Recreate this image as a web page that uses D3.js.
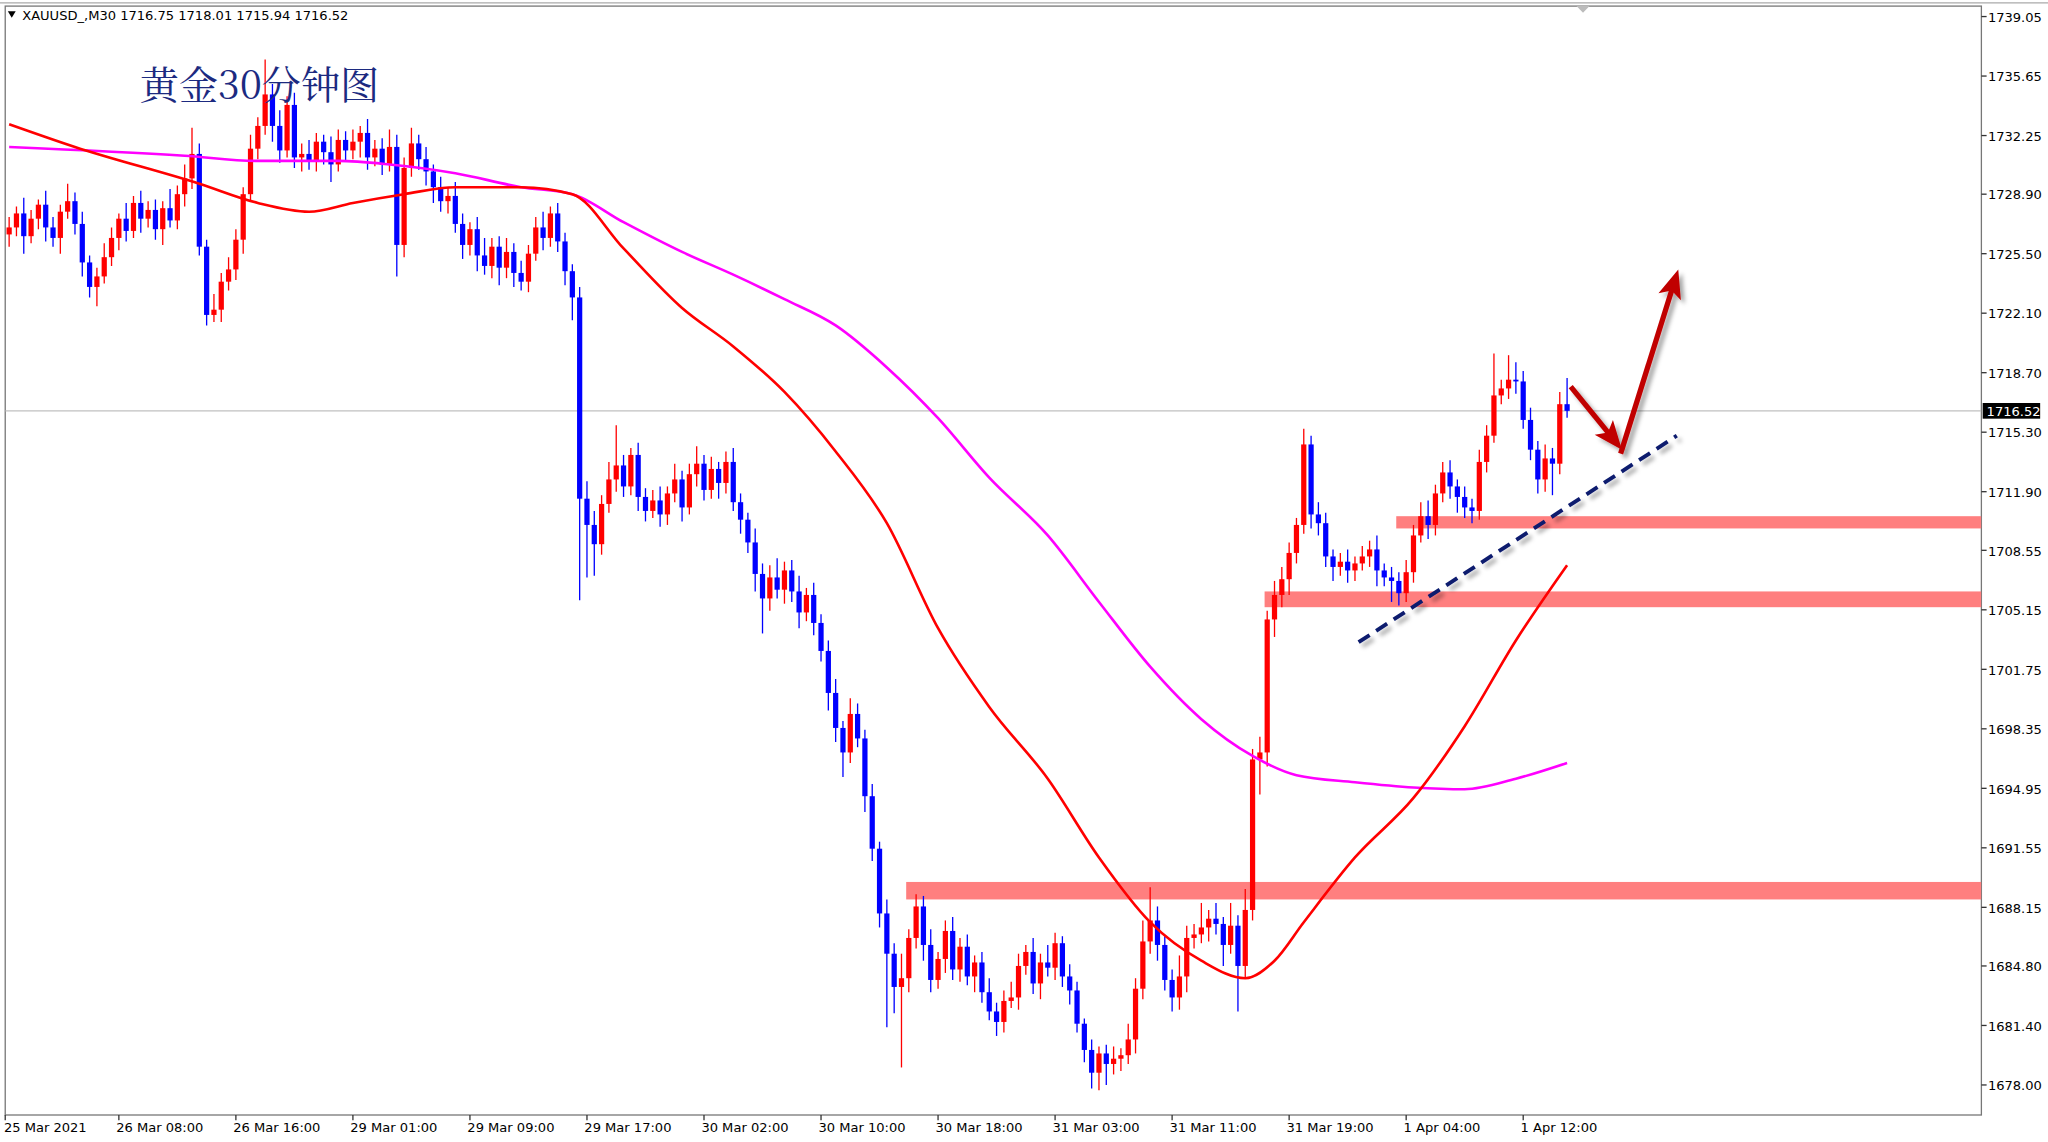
<!DOCTYPE html>
<html>
<head>
<meta charset="utf-8">
<script src="https://cdn.jsdelivr.net/npm/d3@7"></script>
<style>
	body { margin: 0; background: #fff; }
	svg text { font-family: Tahoma, "DejaVu Sans", sans-serif; }
</style>
</head>
<body>
<svg id="chart"></svg>
<script>
// XAUUSD M30, closes (open = previous close)
let firstOpen	= 1726.6;
let closes		= [
	1727.0,1727.8,1726.5,1727.5,1728.3,1727.0,1726.4,1727.9,1728.5,1727.2,
	1725.0,1723.6,1724.2,1725.3,1726.4,1727.5,1726.8,1728.4,1727.5,1728.0,
	1726.9,1728.1,1727.4,1728.9,1729.8,1731.2,1725.9,1722.0,1722.3,1723.9,
	1724.6,1726.3,1728.9,1731.5,1732.8,1734.6,1732.8,1731.4,1734.0,1731.0,
	1731.2,1730.8,1731.9,1731.3,1730.6,1732.0,1731.4,1731.9,1732.4,1731.0,
	1731.5,1730.6,1731.6,1726.0,1730.4,1731.8,1730.9,1730.2,1729.3,1728.5,
	1728.8,1727.2,1726.0,1726.9,1725.4,1724.8,1725.9,1724.7,1725.6,1724.4,
	1723.9,1725.5,1727.0,1726.4,1727.8,1726.2,1724.5,1723.0,1711.5,1710.0,
	1708.9,1711.2,1712.6,1713.4,1712.2,1714.0,1711.6,1710.8,1711.4,1710.6,
	1711.8,1712.6,1711.0,1712.9,1713.5,1712.0,1713.2,1712.4,1713.6,1711.3,
	1710.3,1709.0,1707.2,1705.8,1707.0,1706.3,1707.4,1706.2,1705.0,1706.0,
	1704.4,1702.8,1700.4,1698.4,1697.0,1699.2,1697.8,1694.5,1691.5,1687.8,
	1685.5,1683.6,1684.1,1686.4,1688.2,1686.0,1684.0,1685.2,1686.8,1684.6,
	1685.9,1684.2,1685.0,1683.3,1682.2,1681.6,1682.8,1683.0,1684.8,1685.6,
	1683.8,1685.0,1684.7,1686.1,1684.2,1683.4,1681.5,1680.0,1678.7,1679.8,
	1679.2,1679.5,1679.7,1680.6,1683.5,1686.2,1687.4,1686.0,1684.0,1683.0,
	1684.2,1686.4,1686.6,1687.0,1687.5,1687.2,1686.0,1687.1,1684.8,1688.0,
	1696.6,1697.0,1704.6,1706.0,1706.9,1708.4,1710.0,1714.6,1710.6,1710.1,
	1708.2,1707.6,1707.9,1707.4,1707.8,1708.2,1708.6,1707.4,1707.0,1706.8,
	1706.1,1707.3,1709.4,1710.5,1710.0,1711.8,1713.0,1712.2,1711.6,1711.0,
	1710.8,1713.6,1715.1,1717.4,1717.8,1718.3,1718.2,1716.0,1714.3,1712.6,
	1713.8,1713.5,1716.9,1716.52
];
// wick length above / below the body
let hiExt		= [
	.6,.4,.9,.5,.3,.8,.6,.4,1.0,.5, .7,.4,.5,.8,.6,.3,.9,.4,.7,.5,
	.6,.4,1.1,.5,.8,1.5,.6,.4,.9,.5, .7,.6,.4,.8,.5,2.0,.6,.9,.5,.7,
	.6,.8,.5,.4,.9,.6,.5,.7,.4,.8, .5,.6,1.0,.7,.6,.9,.5,.7,.4,.6,
	.5,.8,.6,.4,.7,1.0,.5,.6,.8,.5, .7,.5,.6,.9,.4,.6,.5,.4,.6,1.0,
	.8,.5,1.0,2.3,.6,.4,.7,.5,.6,.8, .4,.9,.5,.6,1.0,.5,.7,.4,.6,.8,
	.5,.4,.8,.6,.7,1.1,.5,.6,.9,.4, .7,.5,.6,.8,.4,.9,.6,.5,.7,.4,
	.8,.6,1.4,.5,.7,.6,.9,.4,.6,.8, .5,.7,.4,.6,.8,.5,.6,.9,.7,.4,
	.8,.5,1.0,.6,.4,.7,.5,.3,.6,.4, .5,.7,.4,.9,.6,1.2,1.9,.8,.5,.6,
	1.2,.7,.6,1.4,.5,.9,.4,1.3,.6,1.2, .6,.9,.5,.8,.7,.6,.4,.9,.5,.7,
	.6,.4,.5,.7,.4,.6,.5,.8,.4,.6, .5,.7,.6,.8,.9,.5,.6,.7,.4,.6,
	.5,.7,.6,2.4,.5,1.4,1.0,.6,.7,.5, .8,.6,.7,1.5
];
let loExt		= [
	.7,.5,1.0,.4,.6,.8,.5,.9,.4,.6, .8,.6,1.1,.4,.5,.7,.6,.4,.8,.5,
	.6,.9,.4,.5,.7,.6,.5,.6,.4,.7, .5,.6,.8,.4,.6,.5,.9,.7,.4,.6,
	.8,.5,.6,.7,1.0,.4,.6,.5,.9,.7, .5,.6,.4,1.8,.7,.5,.6,.8,.9,.6,
	.7,.5,.8,.6,.9,.5,.7,1.0,.6,.8, .5,.6,.4,.7,.5,.6,.8,1.3,5.8,3.0,
	1.8,.6,.5,.7,.6,.5,.8,.6,.4,.7, .6,.5,.8,.4,.7,.6,.5,.9,.6,.5,
	.8,.6,1.0,2.0,.7,.5,.8,.6,.9,.5, .7,.6,1.0,.8,1.4,.6,.5,.9,.7,.8,
	4.2,1.5,4.6,.8,.6,.9,.7,.5,.8,.6, .7,.5,.9,.6,.5,.8,.6,.4,.7,.5,
	.6,.9,.5,.7,.6,.8,.5,.7,.9,1.0, 1.2,.6,.7,.5,.8,.6,.7,.9,.6,.8,
	.7,.9,.6,.5,.8,.6,1.2,.5,2.6,.7, .6,2.0,.8,1.0,.7,.9,.6,.5,.8,.7,
	.6,.8,.5,.7,.6,.4,.6,.9,.5,1.2, .7,.5,.6,.4,.8,.6,.5,.7,.9,.6,
	.7,.5,.6,.4,.5,.6,.7,.5,.6,.8, .7,1.8,.6,.4
];

// moving averages: [bar, price]
let maFastBars	= [0,9,26,34,41,47,54,61,70,77,84,92,99,106,113,120,127,134,142,149,156,163,169,173,177,184,192,199,206,213];
let maFastVals	= [1732.9,1731.6,1729.5,1728.4,1727.9,1728.4,1728.9,1729.3,1729.3,1728.9,1725.8,1722.4,1720.2,1717.6,1714.2,1710.1,1704.1,1699.6,1695.5,1691.0,1687.3,1685.1,1684.1,1685.1,1687.3,1691.0,1694.4,1698.5,1703.4,1707.7];
let maSlowBars	= [0,24,34,45,52,61,70,77,84,92,99,106,113,120,127,134,142,149,156,163,170,176,184,192,199,206,213];
let maSlowVals	= [1731.6,1731.1,1730.8,1730.8,1730.6,1730.1,1729.3,1728.9,1727.3,1725.6,1724.3,1722.9,1721.4,1719.0,1716.1,1712.7,1709.4,1705.6,1701.9,1698.9,1696.8,1695.7,1695.3,1695.0,1694.9,1695.5,1696.4];

// support zones: [from bar, top price, bottom price]
let zones		= [[123, 1689.6, 1688.6], [172, 1706.2, 1705.3], [190, 1710.5, 1709.8]];
let trendBars	= [184.5, 228];
let trendVals	= [1703.3, 1715.1];
let arrowBars	= [213.5, 220.5, 228.2];
let arrowVals	= [1717.9, 1714.3, 1724.6];

let priceTicks	= [1739.05,1735.65,1732.25,1728.90,1725.50,1722.10,1718.70,1715.30,1711.90,1708.55,1705.15,1701.75,1698.35,1694.95,1691.55,1688.15,1684.80,1681.40,1678.00];
let timeBars	= [-1,15,31,47,63,79,95,111,127,143,159,175,191,207];
let timeLabels	= ["25 Mar 2021","26 Mar 08:00","26 Mar 16:00","29 Mar 01:00","29 Mar 09:00","29 Mar 17:00","30 Mar 02:00","30 Mar 10:00","30 Mar 18:00","31 Mar 03:00","31 Mar 11:00","31 Mar 19:00","1 Apr 04:00","1 Apr 12:00"];
let lastPrice	= 1716.52;

let W = 1568, H = 873;
let plot = { left: 4, right: 1517, top: 4, bottom: 853 };

let svg = d3.select("#chart")
	.attr("width", 2048).attr("height", 1142)
	.attr("viewBox", "0 0 " + W + " " + H);

let x = d3.scaleLinear().domain([0, 213]).range([7, 7 + 5.6 * 213]);
let y = d3.scaleLinear().domain([1678, 1739.05]).range([830, 12]);

let defs = svg.append("defs");
let f = defs.append("filter").attr("id", "shadow").attr("x", "-20%").attr("y", "-20%").attr("width", "140%").attr("height", "140%");
f.append("feDropShadow").attr("dx", 3).attr("dy", 3).attr("stdDeviation", 1.6).attr("flood-color", "#000").attr("flood-opacity", 0.35);
defs.append("clipPath").attr("id", "clip").append("rect")
	.attr("x", plot.left).attr("y", plot.top).attr("width", plot.right - plot.left).attr("height", plot.bottom - plot.top);

// frame
svg.append("rect").attr("x", plot.left).attr("y", plot.top)
	.attr("width", plot.right - plot.left).attr("height", plot.bottom - plot.top)
	.attr("fill", "#fff").attr("stroke", "#777").attr("stroke-width", 1);
svg.append("line").attr("x1", 0).attr("x2", W).attr("y1", 1.5).attr("y2", 1.5).attr("stroke", "#aaa");

let g = svg.append("g").attr("clip-path", "url(#clip)");

// last price line
g.append("line").attr("x1", plot.left).attr("x2", plot.right)
	.attr("y1", y(lastPrice)).attr("y2", y(lastPrice)).attr("stroke", "#c0c0c0").attr("stroke-width", 1);

// zones
g.selectAll(".zone").data(zones).enter().append("rect")
	.attr("x", (o) => x(o[0]) - 2).attr("y", (o) => y(o[1]))
	.attr("width", (o) => plot.right - x(o[0]) + 2).attr("height", (o) => y(o[2]) - y(o[1]))
	.attr("fill", "#ff7f7f");

// candles
let bars = closes.map((c, i) => {
	let o = i == 0 ? firstOpen : closes[i - 1];
	return { i: i, open: o, close: c, high: Math.max(o, c) + hiExt[i], low: Math.min(o, c) - loExt[i] };
});

g.selectAll(".wick").data(bars).enter().append("line")
	.attr("x1", (o) => x(o.i)).attr("x2", (o) => x(o.i))
	.attr("y1", (o) => y(o.high)).attr("y2", (o) => y(o.low))
	.attr("stroke", (o) => o.close >= o.open ? "#ff0000" : "#0000ff").attr("stroke-width", 1);

g.selectAll(".body").data(bars).enter().append("rect")
	.attr("x", (o) => x(o.i) - 2).attr("width", 4)
	.attr("y", (o) => y(Math.max(o.open, o.close)))
	.attr("height", (o) => Math.max(1.2, Math.abs(y(o.open) - y(o.close))))
	.attr("fill", (o) => o.close >= o.open ? "#ff0000" : "#0000ff");

// moving averages
let line = d3.line().x((o) => x(o[0])).y((o) => y(o[1])).curve(d3.curveMonotoneX);
g.append("path").datum(d3.zip(maSlowBars, maSlowVals)).attr("d", line)
	.attr("fill", "none").attr("stroke", "#ff00ff").attr("stroke-width", 2);
g.append("path").datum(d3.zip(maFastBars, maFastVals)).attr("d", line)
	.attr("fill", "none").attr("stroke", "#ff0000").attr("stroke-width", 2);

// trend line
g.append("line")
	.attr("x1", x(trendBars[0])).attr("y1", y(trendVals[0]))
	.attr("x2", x(trendBars[1])).attr("y2", y(trendVals[1]))
	.attr("stroke", "#0a1a6e").attr("stroke-width", 3).attr("stroke-dasharray", "10,6")
	.attr("filter", "url(#shadow)");

// arrows
function arrow(x1, y1, x2, y2) {
	let a = Math.atan2(y2 - y1, x2 - x1), L = 22, w = 9;
	let bx = x2 - L * Math.cos(a), by = y2 - L * Math.sin(a);
	let px = -Math.sin(a), py = Math.cos(a);
	let ag = g.append("g").attr("filter", "url(#shadow)");
	ag.append("line").attr("x1", x1).attr("y1", y1).attr("x2", bx + 6 * Math.cos(a)).attr("y2", by + 6 * Math.sin(a))
		.attr("stroke", "#c00000").attr("stroke-width", 4);
	ag.append("path")
		.attr("d", "M" + x2 + "," + y2 + "L" + (bx + w * px) + "," + (by + w * py) + "L" + (bx + 5 * Math.cos(a)) + "," + (by + 5 * Math.sin(a)) + "L" + (bx - w * px) + "," + (by - w * py) + "Z")
		.attr("fill", "#c00000");
}
arrow(x(arrowBars[0]), y(arrowVals[0]), x(arrowBars[1]), y(arrowVals[1]));
arrow(x(arrowBars[1]) - 1, y(arrowVals[1]) + 3, x(arrowBars[2]), y(arrowVals[2]));

// price axis
let ax = svg.append("g");
ax.selectAll(".pt").data(priceTicks).enter().append("line")
	.attr("x1", plot.right).attr("x2", plot.right + 4)
	.attr("y1", (o) => y(o)).attr("y2", (o) => y(o)).attr("stroke", "#333");
ax.selectAll(".pl").data(priceTicks).enter().append("text")
	.attr("x", plot.right + 5).attr("y", (o) => y(o) + 4)
	.attr("font-size", 10).attr("fill", "#000")
	.text((o) => o.toFixed(2));
ax.append("rect").attr("x", plot.right + 1).attr("y", y(lastPrice) - 6).attr("width", 44).attr("height", 12).attr("fill", "#000");
ax.append("text").attr("x", plot.right + 4).attr("y", y(lastPrice) + 4)
	.attr("font-size", 10).attr("fill", "#fff").text(lastPrice.toFixed(2));

// time axis
let tx = svg.append("g");
tx.selectAll(".tt").data(timeBars).enter().append("line")
	.attr("x1", (o) => Math.max(plot.left, x(o))).attr("x2", (o) => Math.max(plot.left, x(o)))
	.attr("y1", plot.bottom).attr("y2", plot.bottom + 4).attr("stroke", "#333");
tx.selectAll(".tl").data(timeBars).enter().append("text")
	.attr("x", (o, i) => i == 0 ? 3 : x(o) - 2).attr("y", plot.bottom + 13)
	.attr("font-size", 10).attr("fill", "#000")
	.text((o, i) => timeLabels[i]);

// header + title
svg.append("path").attr("d", "M6,8L12,8L9,13Z").attr("fill", "#000");
svg.append("text").attr("x", 17).attr("y", 15).attr("font-size", 10).attr("fill", "#000")
	.text("XAUUSD_,M30  1716.75 1718.01 1715.94 1716.52");
svg.append("path").attr("d", "M1207,4L1217,4L1212,9Z").attr("fill", "#bbb");
svg.append("text").attr("x", 107).attr("y", 75)
	.style("font-family", "'Noto Serif CJK SC','Noto Sans CJK SC',serif")
	.attr("font-size", 30).attr("fill", "#1c2a80")
	.text("黄金30分钟图");
</script>
</body>
</html>
